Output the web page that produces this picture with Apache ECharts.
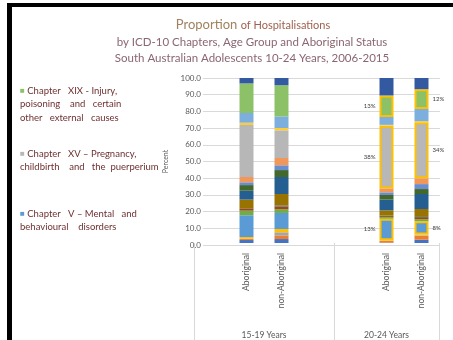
<!DOCTYPE html>
<html>
<head>
<meta charset="utf-8">
<script src="https://cdn.jsdelivr.net/npm/echarts@6/dist/echarts.min.js"></script>
<style>
  html, body { margin: 0; padding: 0; background: #ffffff; }
  #chart { width: 453px; height: 340px; }
</style>
</head>
<body>
<div id="chart"></div>
<script>
// Age groups and the category slots inside each (blank slots keep the spacing)
const groupLabels = ['15-19 Years', '20-24 Years'];
const groupSlots = [
  ['', 'Aboriginal', 'non-Aboriginal', ''],
  ['', 'Aboriginal', 'non-Aboriginal']
];

// ICD-10 chapter segments, stacked bottom to top
const chapterNames = [
  'Chapter I', 'Chapter II', 'Chapter III', 'Chapter IV', 'Chapter V',
  'Chapter VI', 'Chapter VIII', 'Chapter IX', 'Chapter X', 'Chapter XI',
  'Chapter XII', 'Chapter XIII', 'Chapter XIV', 'Chapter XV', 'Chapter XVII',
  'Chapter XVIII', 'Chapter XIX', 'Chapter XXI'
];

// Percent of hospitalisations per chapter (same order as chapterNames)
const aboriginal1519 =    [1.8, 0.6, 0.2, 1.0, 13.2, 2.8, 1.4, 0.2, 5.1, 5.4, 3.4, 1.7, 3.2, 31.5, 1.4, 5.9, 17.9, 3.3];
const nonAboriginal1519 = [2.4, 2.2, 1.9, 2.0, 9.7, 2.2, 1.6, 0.8, 6.9, 10.3, 4.2, 2.9, 4.4, 16.8, 1.4, 7.0, 18.9, 4.4];
const aboriginal2024 =    [0.2, 1.0, 0.2, 0.3, 13, 1.0, 0.6, 0.3, 3.2, 6.5, 2.8, 1.6, 2.4, 38, 0.5, 4.8, 13, 10.6];
const nonAboriginal2024 = [2.0, 2.4, 0.3, 0.5, 8, 1.2, 0.8, 0.6, 4.8, 9.1, 3.0, 3.0, 3.5, 34, 0.6, 7.4, 12, 6.8];

// Bars in slot order (only the non-blank slots get a bar)
const barValues = [aboriginal1519, nonAboriginal1519, aboriginal2024, nonAboriginal2024];
// Chapters called out with a box and a value label in the 20-24 group
const calloutChapters = ['Chapter V', 'Chapter XV', 'Chapter XIX'];
const calloutBars = [2, 3];

const palette = [
  '#4472C4', '#ED7D31', '#A5A5A5', '#FFC000', '#5B9BD5', '#70AD47', '#9E480E',
  '#636363', '#997300', '#255E91', '#43682B', '#698ED0', '#F1975A', '#B7B7B7',
  '#FFCD33', '#7CAFDD', '#8CC168', '#335AA1'
];

const FONT = 'Lato, "Liberation Sans", sans-serif';
const AXIS_GREY = '#595959';
const GRID_GREY = '#d9d9d9';
const NOTE_RED = '#6e3030';

// Flatten the two-level category axis
const slotLabels = [].concat(...groupSlots);
const slotToBar = [];
let barIdx = 0;
slotLabels.forEach(function (s) { slotToBar.push(s ? barIdx++ : -1); });

// Group boundaries and centres on a 0..N slot scale
const groupBounds = [0];
groupSlots.forEach(function (g) { groupBounds.push(groupBounds[groupBounds.length - 1] + g.length); });
const groupCentres = groupLabels.map(function (_, i) { return (groupBounds[i] + groupBounds[i + 1]) / 2; });

const series = chapterNames.map(function (name, ci) {
  const isCallout = calloutChapters.indexOf(name) >= 0;
  return {
    name: name,
    type: 'bar',
    stack: 'total',
    xAxisIndex: 0,
    yAxisIndex: 0,
    barWidth: 14,
    itemStyle: { color: palette[ci] },
    data: slotToBar.map(function (b) {
      if (b < 0) return '-';
      const v = barValues[b][ci];
      if (isCallout && calloutBars.indexOf(b) >= 0) {
        const onLeft = b === calloutBars[0];
        return {
          value: v,
          itemStyle: { borderColor: '#FFC000', borderWidth: 2 },
          label: {
            show: true,
            position: onLeft ? 'left' : 'right',
            distance: 4,
            formatter: function (p) { return p.value + '%'; },
            fontSize: 6,
            fontFamily: FONT,
            color: '#404040'
          }
        };
      }
      return v;
    })
  };
});

const chart = echarts.init(document.getElementById('chart'), null, { renderer: 'canvas' });

const gridTop = 78, gridBottom = 95;

function note(x, y, colour, lines) {
  return {
    type: 'text', x: x, y: y,
    style: {
      text: '{q|■} ' + lines.join('\n'),
      lineHeight: 13.5,
      fontSize: 9.5, fontFamily: FONT, fill: NOTE_RED,
      rich: { q: { fill: colour, fontSize: 8 } }
    }
  };
}

chart.setOption({
  animation: false,
  backgroundColor: '#ffffff',
  grid: [
    { left: 194, right: 14, top: gridTop, bottom: gridBottom },
    { left: 203, right: 13, top: gridTop, bottom: gridBottom }
  ],
  xAxis: [
    {
      type: 'category',
      gridIndex: 0,
      position: 'bottom',
      data: slotLabels,
      axisLine: { show: false },
      axisTick: { show: false },
      axisLabel: {
        interval: 0,
        rotate: 90,
        margin: 10,
        fontSize: 8.5,
        fontFamily: FONT,
        color: AXIS_GREY
      }
    },
    {
      type: 'value',
      gridIndex: 0,
      position: 'bottom',
      min: 0,
      max: groupBounds[groupBounds.length - 1],
      axisLine: { show: false },
      splitLine: { show: false },
      axisTick: {
        show: true,
        length: 100,
        customValues: groupBounds,
        lineStyle: { color: GRID_GREY, width: 1 }
      },
      axisLabel: {
        customValues: groupCentres,
        margin: 88,
        fontSize: 8.5,
        fontFamily: FONT,
        color: AXIS_GREY,
        formatter: function (v) {
          const i = groupCentres.indexOf(v);
          return i >= 0 ? groupLabels[i] : '';
        }
      }
    },
    { type: 'value', gridIndex: 1, show: false, min: 0, max: 1 }
  ],
  yAxis: [
    { type: 'value', gridIndex: 0, min: 0, max: 100, show: false },
    {
      type: 'value',
      gridIndex: 1,
      min: 0,
      max: 100,
      interval: 10,
      name: 'Percent',
      nameLocation: 'middle',
      nameGap: 27,
      nameTextStyle: { fontSize: 7, fontFamily: FONT, color: AXIS_GREY },
      axisLine: { show: false },
      axisTick: { show: false },
      splitLine: { lineStyle: { color: GRID_GREY, width: 1 } },
      axisLabel: {
        margin: 2,
        fontSize: 8,
        fontFamily: FONT,
        color: AXIS_GREY,
        formatter: function (v) { return v.toFixed(1); }
      }
    }
  ],
  series: series,
  graphic: [
    // frame
    { type: 'rect', shape: { x: 7, y: 3, width: 446, height: 4 }, style: { fill: '#000' }, silent: true },
    { type: 'rect', shape: { x: 7, y: 3, width: 5, height: 337 }, style: { fill: '#000' }, silent: true },
    // titles
    {
      type: 'text', x: 253, y: 25,
      style: {
        text: '{a|Proportion} {b|of Hospitalisations}',
        align: 'center', verticalAlign: 'middle',
        rich: {
          a: { fontSize: 13, fontFamily: FONT, fill: '#a0825f' },
          b: { fontSize: 11, fontFamily: FONT, fill: '#a0604e' }
        }
      }
    },
    {
      type: 'text', x: 252, y: 42,
      style: {
        text: 'by ICD-10 Chapters, Age Group and Aboriginal Status',
        align: 'center', verticalAlign: 'middle',
        fontSize: 11.5, fontFamily: FONT, fill: '#8a6670'
      }
    },
    {
      type: 'text', x: 252, y: 58,
      style: {
        text: 'South Australian Adolescents 10-24 Years, 2006-2015',
        align: 'center', verticalAlign: 'middle',
        fontSize: 11.5, fontFamily: FONT, fill: '#8a6670'
      }
    },
    // chapter notes
    note(20, 84, '#8CC168', ['Chapter   XIX - Injury,', 'poisoning    and   certain', 'other   external   causes']),
    note(20, 147, '#B7B7B7', ['Chapter   XV – Pregnancy,', 'childbirth    and   the  puerperium']),
    note(20, 207, '#5B9BD5', ['Chapter   V – Mental   and', 'behavioural    disorders'])
  ]
});
</script>
</body>
</html>
